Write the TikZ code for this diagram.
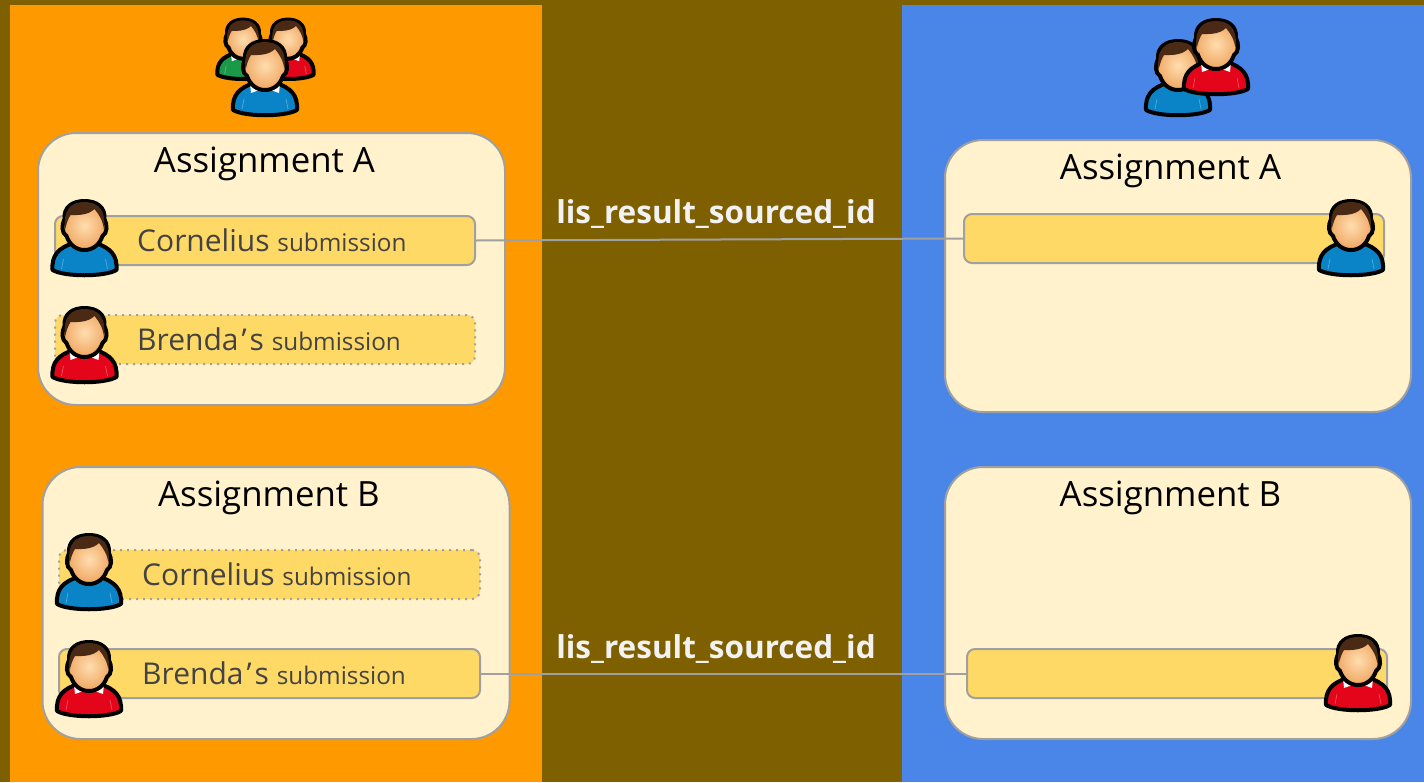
\documentclass[tikz,border=0pt]{standalone}
\usepackage{fontspec}
\setmainfont{Open Sans}
\definecolor{bgbrown}{HTML}{7F6000}
\definecolor{panelorange}{HTML}{FF9900}
\definecolor{panelblue}{HTML}{4A86E8}
\definecolor{cardfill}{HTML}{FFF2CC}
\definecolor{rowfill}{HTML}{FFD966}
\definecolor{edgegray}{HTML}{A0A0A0}
\definecolor{textgray}{HTML}{434343}
\definecolor{shirtblue}{HTML}{0A84C6}
\definecolor{shirtred}{HTML}{E4051A}
\definecolor{shirtgreen}{HTML}{1A9A48}
\definecolor{hair}{HTML}{4A2A14}
\definecolor{skinin}{HTML}{FFDDB0}
\definecolor{skinout}{HTML}{EFA55E}
\tikzset{
  x=1pt,y=-1pt,
  card/.style={draw=edgegray,line width=2pt,fill=cardfill,rounded corners=38pt,minimum width=#1,minimum height=272pt,inner sep=0pt},
  row/.style={draw=edgegray,line width=2pt,fill=rowfill,rounded corners=8pt,minimum width=#1,minimum height=49pt,inner sep=0pt},
  ghostrow/.style={row=#1,dash pattern=on 2pt off 5pt},
  cardtitle/.style={font=\fontsize{34.8}{38}\selectfont,text=black,inner sep=0pt},
  rowtext/.style={font=\fontsize{30}{34}\selectfont,text=textgray,inner sep=0pt,anchor=base west},
  linklabel/.style={font=\fontsize{31.5}{34}\selectfont\bfseries,text=white!95!black,inner sep=0pt},
  link/.style={draw=edgegray,line width=2pt},
  pics/person/.style n args={2}{code={
    % body
    \fill[#1,draw=black,line width=4pt,line join=round]
      (-32,71) .. controls (-33,56) and (-26,49) .. (-11,44)
      -- (11,44) .. controls (26,49) and (33,56) .. (32,71)
      .. controls (20,78) and (-20,78) .. (-32,71) -- cycle;
    \draw[white,opacity=.3,line width=.7pt] (-23,70) -- (-21,60) (23,70) -- (21,60);
    % collar
    #2
    % head outline + face
    \shade[inner color=skinin,outer color=skinout,draw=black,line width=4pt]
      (-20,20) .. controls (-21,8) and (-12,2) .. (0,2)
      .. controls (12,2) and (21,8) .. (20,20)
      .. controls (23,26) and (23,34) .. (18,37)
      .. controls (15,46) and (8,51) .. (0,51)
      .. controls (-8,51) and (-15,46) .. (-18,37)
      .. controls (-23,34) and (-23,26) .. (-20,20) -- cycle;
    % hair
    \fill[hair] (-19.5,31) .. controls (-22,9) and (-12,3) .. (0,3)
      .. controls (12,3) and (22,9) .. (19.5,31)
      .. controls (18.5,22) and (15,16) .. (10,10)
      .. controls (3,17) and (-9,16) .. (-14,16)
      .. controls (-16,19) and (-18,24) .. (-19.5,31) -- cycle;
  }},
}
\newcommand{\roundcollar}{\fill[white!92!black] (-14,44) .. controls (-8,53) and (8,53) .. (14,44) -- (8,40) -- (-8,40) -- cycle;}
\newcommand{\pointcollar}{\fill[white] (-15,44) -- (-14,54) -- (0,49) -- (14,54) -- (15,44) -- (8,40) -- (-8,40) -- cycle;}
\begin{document}
\begin{tikzpicture}
\useasboundingbox (0,0) rectangle (1424,782);
\fill[bgbrown] (0,0) rectangle (1424,782);
\fill[panelorange] (10,5) rectangle (542,782);
\fill[panelblue] (902,5) rectangle (1424,782);
% cards
\node[card=467pt] (cardLA) at (271.5,269) {};
\node[card=467pt] (cardLB) at (276,603) {};
\node[card=466pt] (cardRA) at (1178,276) {};
\node[card=466pt] (cardRB) at (1178,603) {};
% rows
\node[row=420pt] (rowLAc) at (265,240.5) {};
\node[ghostrow=420pt] (rowLAb) at (265,339.5) {};
\node[ghostrow=421pt] (rowLBc) at (269.5,574.5) {};
\node[row=421pt] (rowLBb) at (269.5,673.5) {};
\node[row=420pt] (rowRAc) at (1174,238.5) {};
\node[row=420pt] (rowRBb) at (1177,673.5) {};
% links
\draw[link] (rowLAc.east) -- (rowRAc.west);
\draw[link] (rowLBb.east) -- (rowRBb.west);
\node[linklabel] (lblA) at (716,214) {lis\_result\_sourced\_id};
\node[linklabel] (lblB) at (716,649) {lis\_result\_sourced\_id};
% titles
\node[cardtitle] (tLA) at (264.5,164) {Assignment A};
\node[cardtitle] (tLB) at (269,498) {Assignment B};
\node[cardtitle] (tRA) at (1170.5,171) {Assignment A};
\node[cardtitle] (tRB) at (1170.5,498) {Assignment B};
% row texts
\node[rowtext] (a1) at (137,251) {Cornelius {\fontsize{24.3}{28}\selectfont submission}};
\node[rowtext] (a2) at (137,350) {Brenda\kern3pt’\kern3pts {\fontsize{24.3}{28}\selectfont submission}};
\node[rowtext] (b1) at (142,585) {Cornelius {\fontsize{24.3}{28}\selectfont submission}};
\node[rowtext] (b2) at (142,684) {Brenda\kern3pt’\kern3pts {\fontsize{24.3}{28}\selectfont submission}};
% people
\pic at (84.5,199) {person={shirtblue}{\roundcollar}};
\pic at (84.5,306) {person={shirtred}{\pointcollar}};
\pic at (89,533) {person={shirtblue}{\roundcollar}};
\pic at (89,640) {person={shirtred}{\pointcollar}};
\pic at (1351,199) {person={shirtblue}{\roundcollar}};
\pic at (1358,634) {person={shirtred}{\pointcollar}};
% groups
\pic[scale=.8] at (243,18) {person={shirtgreen}{\pointcollar}};
\pic[scale=.8] at (288,18) {person={shirtred}{\pointcollar}};
\pic at (265,39) {person={shirtblue}{\pointcollar}};
\pic at (1178,39) {person={shirtblue}{\roundcollar}};
\pic at (1216,18) {person={shirtred}{\pointcollar}};
\end{tikzpicture}
\end{document}
